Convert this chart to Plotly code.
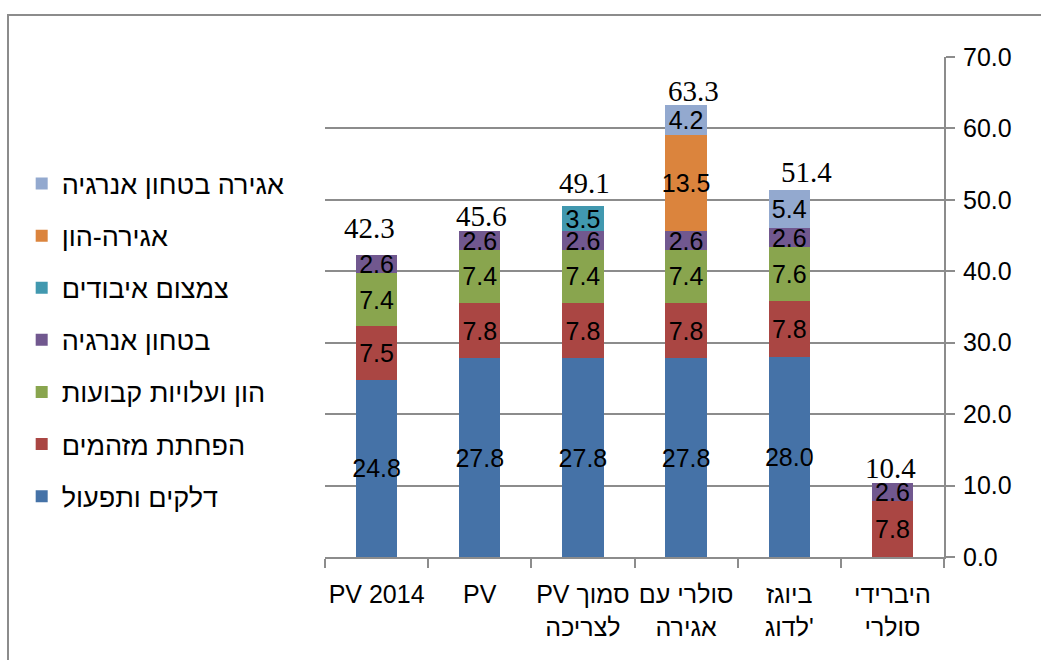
import plotly.graph_objects as go

categories = ["PV 2014", "PV", "PV סמוך<br>לצריכה", "סולרי עם<br>אגירה", "ביוגז<br>לדוג'", "היברידי<br>סולרי"]

series_names = [
    "דלקים ותפעול",
    "הפחתת מזהמים",
    "הון ועלויות קבועות",
    "בטחון אנרגיה",
    "צמצום איבודים",
    "אגירה-הון",
    "אגירה בטחון אנרגיה",
]
fuel_ops = [24.8, 27.8, 27.8, 27.8, 28.0, None]
pollutants = [7.5, 7.8, 7.8, 7.8, 7.8, 7.8]
capital_fixed = [7.4, 7.4, 7.4, 7.4, 7.6, None]
energy_security = [2.6, 2.6, 2.6, 2.6, 2.6, 2.6]
loss_reduction = [None, None, 3.5, None, None, None]
storage_capital = [None, None, None, 13.5, None, None]
storage_security = [None, None, None, 4.2, 5.4, None]
totals = [42.3, 45.6, 49.1, 63.3, 51.4, 10.4]

series_values = [fuel_ops, pollutants, capital_fixed, energy_security,
                 loss_reduction, storage_capital, storage_security]
colors = ["#4572A7", "#AA4643", "#89A54E", "#71588F", "#4198AF", "#DB843D", "#93A9CF"]

# style: manual label offsets (pixels) for the total labels
total_xshift = [-7, 2, 2, 7, 17, -2]
total_yshift = [27, 15, 23, 14, 18, 15]

SANS = "Liberation Sans, Arial, sans-serif"
SERIF = "Liberation Serif, Times New Roman, serif"
GRID = "#8c8c8c"

fig = go.Figure()
n = len(series_names)
for i, (name, vals, col) in enumerate(zip(series_names, series_values, colors)):
    fig.add_trace(go.Bar(
        name=name,
        x=categories,
        y=vals,
        marker=dict(color=col, line=dict(width=0)),
        texttemplate="%{y:.1f}",
        textposition="inside",
        insidetextanchor="middle",
        textangle=0,
        constraintext="none",
        insidetextfont=dict(family=SANS, size=25, color="black"),
        legendgroup="g%d" % i,
        legendrank=n - i,
        width=0.4,
    ))

for i, (c, t) in enumerate(zip(categories, totals)):
    fig.add_annotation(
        x=c, y=t, text="%.1f" % t, showarrow=False,
        xanchor="center", yanchor="middle",
        xshift=total_xshift[i], yshift=total_yshift[i],
        font=dict(family=SERIF, size=29, color="black"),
    )

fig.add_shape(type="rect", xref="paper", yref="paper",
              x0=(8 - 325) / 619, x1=1.3, y0=-0.4, y1=(557 - 15) / 500,
              line=dict(color="#8c8c8c", width=2), layer="below")

fig.update_layout(
    barmode="stack",
    width=1041, height=660,
    margin=dict(l=325, r=97, t=57, b=103, autoexpand=False),
    paper_bgcolor="white", plot_bgcolor="white",
    font=dict(family=SANS, size=25, color="black"),
    uniformtext=dict(mode="show", minsize=25),
    showlegend=True,
    legend=dict(
        x=-0.49, y=0.795, xanchor="left", yanchor="top",
        traceorder="grouped", tracegroupgap=14,
        font=dict(family=SANS, size=27, color="black"),
        bgcolor="rgba(0,0,0,0)",
    ),
    xaxis=dict(
        showgrid=False, showline=True, linecolor=GRID, linewidth=2,
        ticks="outside", tickson="boundaries", ticklen=9, tickcolor=GRID, tickwidth=2,
        tickfont=dict(family=SANS, size=25, color="black"),
        tickangle=0, automargin=False,
        ticklabelstandoff=14,
    ),
    yaxis=dict(
        side="right", range=[0, 70], dtick=10, tickformat=".1f",
        showgrid=True, gridcolor=GRID, gridwidth=2,
        showline=True, linecolor=GRID, linewidth=2,
        ticks="outside", ticklen=9, tickcolor=GRID, tickwidth=2,
        tickfont=dict(family=SANS, size=25, color="black"),
        ticklabelstandoff=3, zeroline=False, automargin=False,
    ),
)

fig.write_html("out.html")
